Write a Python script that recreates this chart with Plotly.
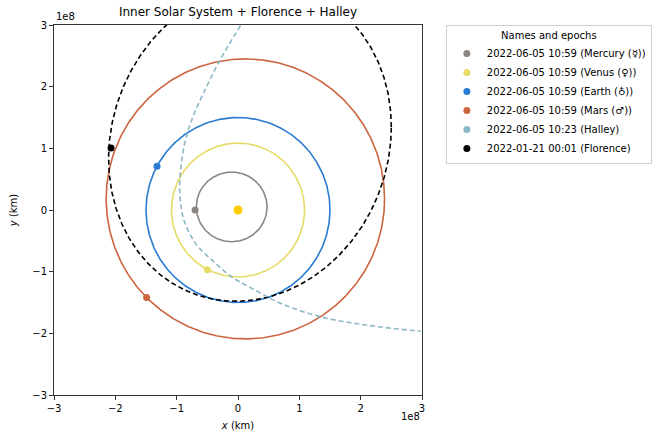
import numpy as np
import plotly.graph_objects as go

SCALE = 1e8  # km per axis unit

# Orbit ellipse parameters (units of 1e8 km):
# centre x, centre y, half-width, half-height, phase tilt
orbit_names = ["Mercury", "Venus", "Earth", "Mars", "Florence"]
orbit_cx = [-0.103, 0.0, 0.0, 0.12, 0.195]
orbit_cy = [0.05, 0.0, 0.0, 0.18, 1.09]
orbit_w = [0.577, 1.085, 1.50, 2.27, 2.305]
orbit_h = [0.565, 1.085, 1.50, 2.27, 2.57]
orbit_psi = [0.0, 0.0, 0.0, 0.0, 0.10]

# Halley orbit trace (units of 1e8 km)
halley_x = [0.04, -0.30, -0.56, -0.74, -0.86, -0.92, -0.95, -0.94, -0.88,
            -0.69, -0.42, -0.10, 0.28, 0.71, 1.36, 2.12, 2.98]
halley_y = [2.99, 2.42, 1.90, 1.50, 1.12, 0.78, 0.45, 0.15, -0.17,
            -0.545, -0.816, -1.086, -1.30, -1.52, -1.735, -1.87, -1.967]

# Body positions (units of 1e8 km)
body_labels = [
    "2022-06-05 10:59 (Mercury (\u263f))",
    "2022-06-05 10:59 (Venus (\u2640))",
    "2022-06-05 10:59 (Earth (\u2641))",
    "2022-06-05 10:59 (Mars (\u2642))",
    "2022-06-05 10:23 (Halley)",
    "2022-01-21 00:01 (Florence)",
]
body_x = [-0.70, -0.50, -1.32, -1.49, None, -2.07]
body_y = [0.0, -0.97, 0.71, -1.42, None, 1.005]
body_colors = ["#8c8680", "#e6db67", "#2a7bd1", "#cc653f", "#8ab8c4", "#000000"]
sun_x, sun_y = [0.0], [0.0]

tick_vals = [-3, -2, -1, 0, 1, 2, 3]
tick_text = ["\u22123", "\u22122", "\u22121", "0", "1", "2", "3"]

fig = go.Figure()

t = np.linspace(0, 2 * np.pi, 721)
orbit_colors = ["#8c8680", "#e6db67", "#2a7bd1", "#cc653f", "#000000"]
for i, name in enumerate(orbit_names):
    ox = (orbit_cx[i] + orbit_w[i] * np.cos(t)) * SCALE
    oy = (orbit_cy[i] + orbit_h[i] * np.sin(t + orbit_psi[i])) * SCALE
    fig.add_trace(go.Scatter(
        x=ox, y=oy, mode="lines", showlegend=False, hoverinfo="skip",
        line=dict(color=orbit_colors[i], width=1.6,
                  dash="5px,3px" if name == "Florence" else "solid"),
    ))

fig.add_trace(go.Scatter(
    x=[v * SCALE for v in halley_x], y=[v * SCALE for v in halley_y],
    mode="lines", showlegend=False, hoverinfo="skip",
    line=dict(color="#8ab8c4", width=1.6, dash="5px,3px", shape="spline"),
))

fig.add_trace(go.Scatter(
    x=[v * SCALE for v in sun_x], y=[v * SCALE for v in sun_y], mode="markers",
    marker=dict(color="#ffcc00", size=9), showlegend=False,
))

for i, lab in enumerate(body_labels):
    bx = [None if body_x[i] is None else body_x[i] * SCALE]
    by = [None if body_y[i] is None else body_y[i] * SCALE]
    fig.add_trace(go.Scatter(
        x=bx, y=by, mode="markers", name=lab,
        marker=dict(color=body_colors[i], size=7),
    ))

axis_common = dict(
    range=[-3 * SCALE, 3 * SCALE],
    tickvals=[v * SCALE for v in tick_vals], ticktext=tick_text,
    showgrid=False, zeroline=False, automargin=False,
    showline=True, linecolor="#333333", linewidth=1, mirror=True,
    ticks="outside", ticklen=4, tickwidth=1, tickcolor="#333333",
    tickfont=dict(family="DejaVu Sans", size=10, color="#000000"),
)

fig.update_layout(
    width=664, height=437,
    margin=dict(l=54, r=240, t=25, b=42),
    plot_bgcolor="white", paper_bgcolor="white",
    font=dict(family="DejaVu Sans", size=10, color="#000000"),
    title=dict(text="Inner Solar System + Florence + Halley",
               font=dict(family="DejaVu Sans", size=12, color="#000000"),
               x=0.5, xref="paper", xanchor="center",
               y=1 - 12 / 437, yref="container", yanchor="middle"),
    xaxis=dict(**axis_common,
               title=dict(text="<i>x</i> (km)", standoff=8,
                          font=dict(family="DejaVu Sans", size=10))),
    yaxis=dict(**axis_common,
               title=dict(text="<i>y</i> (km)", standoff=12,
                          font=dict(family="DejaVu Sans", size=10))),
    legend=dict(
        x=(448 - 54) / 370, xanchor="left", y=1.0, yanchor="top",
        bordercolor="#d0d0d0", borderwidth=1, bgcolor="white",
        font=dict(family="DejaVu Sans", size=10, color="#000000"),
        title=dict(text="Names and epochs", side="top center",
                   font=dict(family="DejaVu Sans", size=10)),
        tracegroupgap=0,
    ),
    annotations=[
        dict(text="1e8", x=0, xref="paper", xanchor="left", y=1.0, yref="paper",
             yanchor="bottom", yshift=1, showarrow=False,
             font=dict(family="DejaVu Sans", size=10)),
        dict(text="1e8", x=1, xref="paper", xanchor="right", y=0, yref="paper",
             yanchor="top", yshift=-14, showarrow=False,
             font=dict(family="DejaVu Sans", size=10)),
    ],
)

fig.write_html("out.html", config={"displayModeBar": False},
               post_script="document.body.style.margin='0';")
